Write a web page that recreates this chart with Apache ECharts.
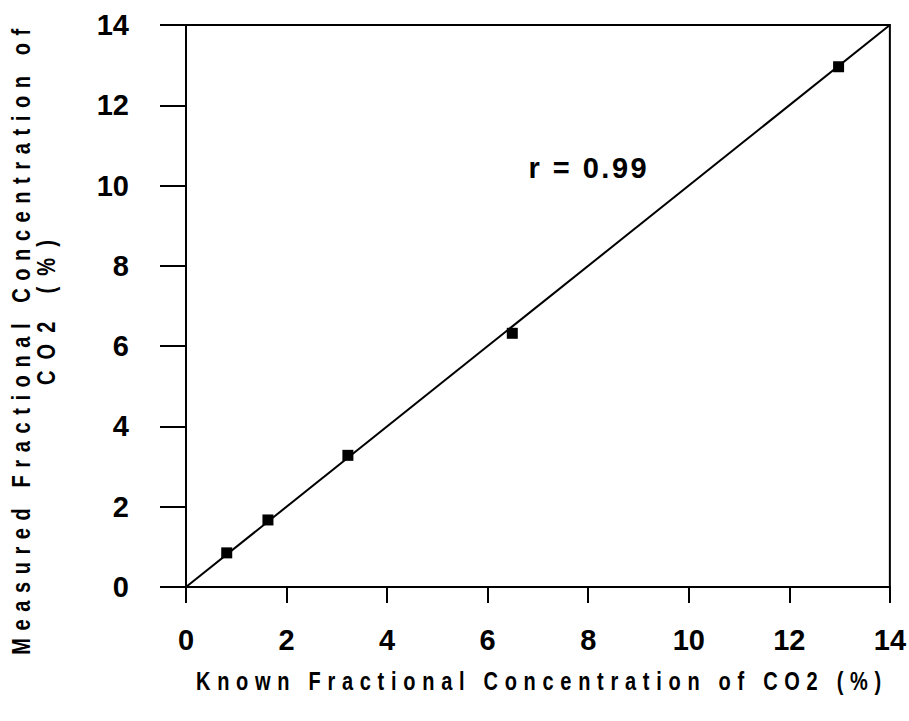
<!DOCTYPE html>
<html>
<head>
<meta charset="utf-8">
<script src="https://cdn.jsdelivr.net/npm/echarts@6/dist/echarts.min.js"></script>
<style>
  html, body { margin: 0; padding: 0; background: #fff; }
  #chart { width: 909px; height: 721px; }
  /* tracked lettering for the titles and the annotation */
  #chart text[style*="Arial"], #chart text[font-family*="Arial"] { letter-spacing: 8.4px; }
  #chart text[style*="Helvetica"], #chart text[font-family*="Helvetica"] { letter-spacing: 9.5px; }
  #chart text[style*="FreeSans"], #chart text[font-family*="FreeSans"] { letter-spacing: 14px; }
  #chart text[style*="Nimbus"], #chart text[font-family*="Nimbus"] { letter-spacing: 2.5px; }
</style>
</head>
<body>
<div id="chart"></div>
<script>
// Calibration: known vs measured fractional CO2 concentration (%)
const knownCO2 = [0.81, 1.63, 3.22, 6.49, 12.98];
const measuredCO2 = [0.85, 1.67, 3.28, 6.32, 12.96];
const fitLine = [[0, 0], [14, 14]];
const rLabel = 'r = 0.99';
const rLabelAt = [6.81, 10.44];
const axisTicks = [0, 2, 4, 6, 8, 10, 12, 14];

const xTitle = 'Known Fractional Concentration of CO2 (%)';
const yTitleLines = ['Measured Fractional Concentration of', 'CO2 (%)'];

const tickFont = { fontFamily: '"Liberation Sans", sans-serif', fontWeight: 'bold', fontSize: 29, color: '#000' };
const xTitleFont = 'bold 25px "Liberation Sans", Arial, sans-serif';
const yTitleFont1 = 'bold 25px "Liberation Sans", Helvetica, sans-serif';
const yTitleFont2 = 'bold 25px "Liberation Sans", FreeSans, sans-serif';
const titleSquash = 0.8;

const chart = echarts.init(document.getElementById('chart'), null, { renderer: 'svg' });

const axisCommon = {
  type: 'value',
  min: axisTicks[0],
  max: axisTicks[axisTicks.length - 1],
  interval: 2,
  splitLine: { show: false },
  axisLine: { show: true, lineStyle: { color: '#000', width: 2 } },
  axisTick: { show: true, inside: false, lineStyle: { color: '#000', width: 2 } }
};

chart.setOption({
  animation: false,
  backgroundColor: '#fff',
  grid: {
    left: 186, right: 16, top: 25, bottom: 134,
    show: true, borderColor: '#000', borderWidth: 2
  },
  xAxis: Object.assign({}, axisCommon, {
    axisTick: Object.assign({}, axisCommon.axisTick, { length: 16 }),
    axisLabel: Object.assign({ margin: 38 }, tickFont)
  }),
  yAxis: Object.assign({}, axisCommon, {
    axisTick: Object.assign({}, axisCommon.axisTick, { length: 26 }),
    axisLabel: Object.assign({ margin: 57 }, tickFont)
  }),
  graphic: [
    {
      type: 'text', x: 542, y: 682, scaleX: titleSquash,
      style: { text: xTitle, font: xTitleFont, fill: '#000', textAlign: 'center', textVerticalAlign: 'middle' }
    },
    {
      type: 'text', x: 22, y: 338, rotation: Math.PI / 2, scaleX: titleSquash,
      style: { text: yTitleLines[0], font: yTitleFont1, fill: '#000', textAlign: 'center', textVerticalAlign: 'middle' }
    },
    {
      type: 'text', x: 47, y: 307, rotation: Math.PI / 2, scaleX: titleSquash,
      style: { text: yTitleLines[1], font: yTitleFont2, fill: '#000', textAlign: 'center', textVerticalAlign: 'middle' }
    }
  ],
  series: [
    {
      type: 'line',
      data: fitLine,
      symbol: 'none',
      lineStyle: { color: '#000', width: 2 },
      z: 2
    },
    {
      type: 'scatter',
      data: knownCO2.map((x, i) => [x, measuredCO2[i]]),
      symbol: 'rect',
      symbolSize: 11,
      itemStyle: { color: '#000', opacity: 1 },
      z: 3
    },
    {
      type: 'scatter',
      data: [rLabelAt],
      symbolSize: 0,
      itemStyle: { opacity: 1 },
      label: {
        show: true, position: 'right', distance: 0,
        formatter: rLabel,
        fontFamily: '"Liberation Sans", Nimbus, sans-serif', fontWeight: 'bold', fontSize: 29, color: '#000'
      },
      silent: true
    }
  ]
});
</script>
</body>
</html>
